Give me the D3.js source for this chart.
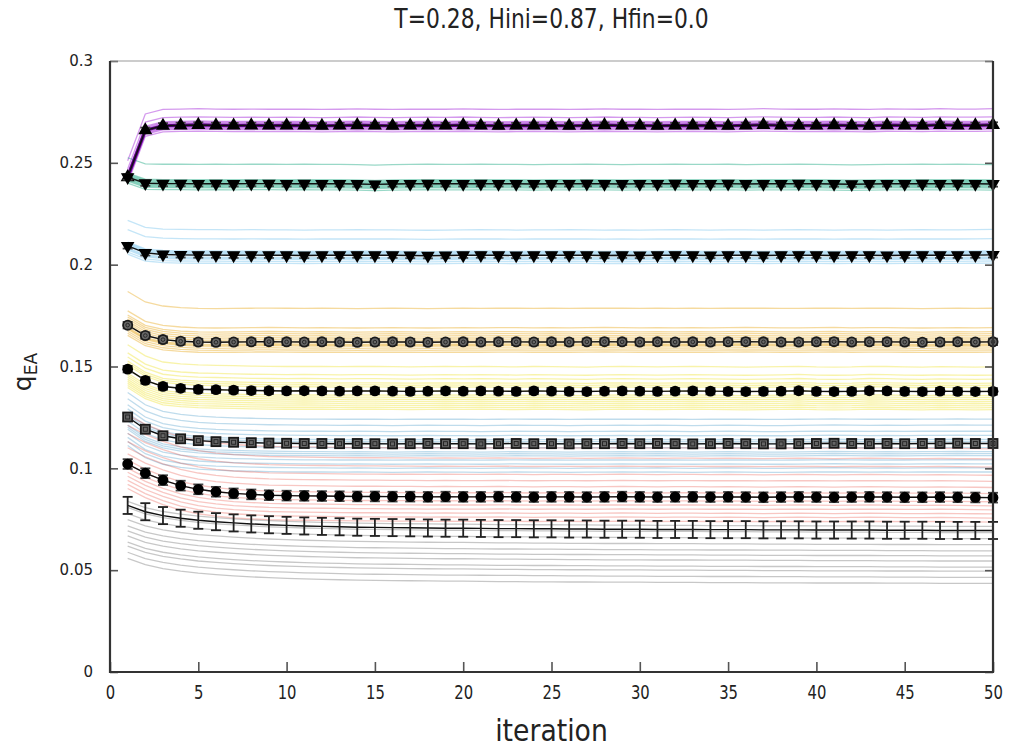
<!DOCTYPE html>
<html><head><meta charset="utf-8">
<script src="https://cdn.jsdelivr.net/npm/d3@7"></script>
<style>
body{margin:0;background:#fff;}
text{fill:#222;}
.norm{font-family:"DejaVu Sans",sans-serif;}
</style></head>
<body><svg id="c" width="1011" height="751"></svg>
<script>
const iterations = [1,2,3,4,5,6,7,8,9,10,11,12,13,14,15,16,17,18,19,20,21,22,23,24,25,26,27,28,29,30,31,32,33,34,35,36,37,38,39,40,41,42,43,44,45,46,47,48,49,50];
const xTicks = [0,5,10,15,20,25,30,35,40,45,50];
const yTicks = [0,0.05,0.1,0.15,0.2,0.25,0.3];

const purpleMean = [0.2430,0.2660,0.2682,0.2684,0.2686,0.2684,0.2683,0.2684,0.2683,0.2684,0.2683,0.2682,0.2683,0.2685,0.2683,0.2682,0.2683,0.2684,0.2683,0.2685,0.2683,0.2682,0.2683,0.2684,0.2683,0.2682,0.2683,0.2685,0.2683,0.2683,0.2682,0.2683,0.2684,0.2683,0.2682,0.2684,0.2686,0.2684,0.2683,0.2683,0.2685,0.2683,0.2682,0.2685,0.2684,0.2683,0.2686,0.2684,0.2684,0.2686];
const greenMean = [0.2430,0.2400,0.2398,0.2398,0.2397,0.2398,0.2397,0.2398,0.2398,0.2397,0.2398,0.2397,0.2397,0.2396,0.2394,0.2396,0.2397,0.2398,0.2397,0.2397,0.2398,0.2397,0.2397,0.2396,0.2397,0.2397,0.2398,0.2397,0.2396,0.2397,0.2397,0.2398,0.2397,0.2397,0.2398,0.2396,0.2397,0.2397,0.2398,0.2397,0.2396,0.2395,0.2396,0.2397,0.2397,0.2398,0.2397,0.2398,0.2397,0.2396];
const blueMean = [0.2092,0.2058,0.2050,0.2048,0.2047,0.2047,0.2046,0.2047,0.2046,0.2046,0.2045,0.2046,0.2046,0.2047,0.2046,0.2046,0.2045,0.2044,0.2045,0.2046,0.2047,0.2046,0.2045,0.2046,0.2046,0.2047,0.2046,0.2045,0.2046,0.2045,0.2046,0.2047,0.2046,0.2045,0.2046,0.2046,0.2045,0.2046,0.2047,0.2046,0.2045,0.2046,0.2046,0.2045,0.2046,0.2047,0.2046,0.2046,0.2047,0.2048];
const orangeMean = [0.1703,0.1652,0.1632,0.1624,0.1620,0.1619,0.1620,0.1621,0.1622,0.1621,0.1620,0.1621,0.1620,0.1619,0.1620,0.1621,0.1620,0.1619,0.1620,0.1621,0.1620,0.1621,0.1621,0.1620,0.1621,0.1620,0.1621,0.1622,0.1621,0.1620,0.1621,0.1620,0.1621,0.1620,0.1621,0.1622,0.1621,0.1620,0.1620,0.1621,0.1622,0.1620,0.1621,0.1621,0.1620,0.1619,0.1620,0.1621,0.1620,0.1621];
const yellowMean = [0.1487,0.1432,0.1402,0.1393,0.1388,0.1386,0.1384,0.1382,0.1381,0.1380,0.1381,0.1380,0.1379,0.1380,0.1380,0.1379,0.1378,0.1379,0.1380,0.1379,0.1380,0.1379,0.1378,0.1380,0.1379,0.1378,0.1377,0.1379,0.1380,0.1379,0.1378,0.1379,0.1380,0.1379,0.1378,0.1377,0.1378,0.1379,0.1381,0.1378,0.1377,0.1378,0.1381,0.1380,0.1378,0.1377,0.1379,0.1378,0.1377,0.1378];
const lightBlueMean = [0.1252,0.1192,0.1160,0.1145,0.1136,0.1131,0.1128,0.1126,0.1124,0.1123,0.1122,0.1122,0.1121,0.1122,0.1121,0.1120,0.1121,0.1122,0.1121,0.1121,0.1120,0.1121,0.1122,0.1121,0.1121,0.1120,0.1121,0.1121,0.1122,0.1121,0.1122,0.1121,0.1120,0.1121,0.1122,0.1121,0.1120,0.1120,0.1121,0.1122,0.1123,0.1122,0.1121,0.1122,0.1121,0.1122,0.1122,0.1123,0.1122,0.1122];
const redMean = [0.1021,0.0976,0.0942,0.0915,0.0897,0.0885,0.0877,0.0872,0.0868,0.0866,0.0865,0.0864,0.0863,0.0862,0.0862,0.0861,0.0861,0.0860,0.0861,0.0860,0.0860,0.0861,0.0860,0.0859,0.0860,0.0860,0.0859,0.0860,0.0861,0.0860,0.0859,0.0860,0.0860,0.0859,0.0860,0.0859,0.0858,0.0859,0.0860,0.0859,0.0858,0.0859,0.0860,0.0859,0.0858,0.0858,0.0859,0.0858,0.0857,0.0856];
const grayMean = [0.0818,0.0787,0.0768,0.0755,0.0745,0.0738,0.0732,0.0727,0.0723,0.0720,0.0717,0.0715,0.0713,0.0711,0.0710,0.0709,0.0708,0.0707,0.0706,0.0706,0.0705,0.0704,0.0704,0.0703,0.0703,0.0702,0.0702,0.0701,0.0701,0.0701,0.0700,0.0700,0.0700,0.0699,0.0699,0.0699,0.0698,0.0698,0.0698,0.0697,0.0697,0.0697,0.0697,0.0696,0.0696,0.0696,0.0695,0.0695,0.0695,0.0695];

const groupErrors = [0.0013,0.0013,0.0013,0.0016,0.0016,0.0019,0.0024,0.0042];

// offsets of the individual (faint) runs from each group mean
const purpleRuns = [0.008,0.004,0.002,0.0015,0.001,0.0005,0.000,-0.0005,-0.001,-0.0015,-0.002,-0.003];
const greenRuns = [0.0095,0.002,0.001,0.0005,0.000,-0.0005,-0.001,-0.0015,-0.002,-0.003,0.0015];
const blueRuns = [0.0125,0.008,0.002,0.001,0.0005,0.000,-0.001,-0.0015,-0.002,-0.003,-0.004,0.0015];
const orangeRuns = [0.0165,0.007,0.005,0.003,0.002,0.001,0.000,-0.001,-0.002,-0.003,-0.004,-0.005,0.004,-0.0015];
const yellowRuns = [0.012,0.008,0.006,0.004,0.002,0.000,-0.002,-0.004,-0.005,-0.006,-0.007,-0.008,-0.009,0.003,-0.003];
const lightBlueRuns = [0.012,0.009,0.006,0.004,0.002,0.000,-0.002,-0.004,-0.006,-0.008,-0.010,-0.012,-0.014,0.001,-0.005];
const redRuns = [0.024,0.019,0.015,0.011,0.008,0.005,0.002,0.000,-0.002,-0.004,-0.006,-0.008,-0.010,-0.012];
const grayRuns = [0.002,-0.001,-0.004,-0.007,-0.010,-0.0125,-0.015,-0.018,-0.020,-0.023,-0.026];

const groupColors = ["#9400d3","#009e73","#56b4e9","#e69f00","#f0e442","#0072b2","#e51e10","#000000"];
const groupMarkers = ["triUp","triDown","triDown","openCircle","circle","openSquare","circle","none"];
const groupMeans = [purpleMean,greenMean,blueMean,orangeMean,yellowMean,lightBlueMean,redMean,grayMean];
const groupRuns = [purpleRuns,greenRuns,blueRuns,orangeRuns,yellowRuns,lightBlueRuns,redRuns,grayRuns];
const runAlpha = [0.4,0.4,0.35,0.38,0.45,0.25,0.25,0.22];

const svg = d3.select("#c");
const L=110,R=993,T=61,B=672;
const x = d3.scaleLinear().domain([0,50]).range([L,R]);
const y = d3.scaleLinear().domain([0,0.3]).range([B,T]);

// title (condensed look)
svg.append("text").attr("class","norm").attr("transform",`translate(${(L+R)/2},28) scale(0.84,1)`)
  .attr("text-anchor","middle").attr("font-size",26).text("T=0.28, Hini=0.87, Hfin=0.0");

const line = d3.line().x((d,i)=>x(iterations[i])).y(d=>y(d));

const plot = svg.append("g");
groupMeans.forEach((m,gi)=>{
  groupRuns[gi].forEach(off=>{
    plot.append("path").datum(m.map(v=>v+off))
      .attr("d",line).attr("fill","none")
      .attr("stroke",groupColors[gi]).attr("stroke-opacity",runAlpha[gi]).attr("stroke-width",1.3);
  });
});

groupMeans.forEach((m,gi)=>{
  const g = plot.append("g");
  if(gi===0){
    g.append("path").datum(m).attr("d",line).attr("fill","none").attr("stroke","#5a0082").attr("stroke-width",3.2);
  }
  g.append("path").datum(m).attr("d",line).attr("fill","none").attr("stroke","#111").attr("stroke-width",1.4);
  const e = groupErrors[gi];
  const eb = g.append("g").attr("stroke", gi===7 ? "#222" : "#444").attr("stroke-width",1.8);
  m.forEach((v,i)=>{
    const cx=x(iterations[i]);
    eb.append("line").attr("x1",cx).attr("x2",cx).attr("y1",y(v-e)).attr("y2",y(v+e));
    eb.append("line").attr("x1",cx-5).attr("x2",cx+5).attr("y1",y(v-e)).attr("y2",y(v-e));
    eb.append("line").attr("x1",cx-5).attr("x2",cx+5).attr("y1",y(v+e)).attr("y2",y(v+e));
  });
  const mk = groupMarkers[gi];
  if(mk==="none") return;
  m.forEach((v,i)=>{
    const cx=x(iterations[i]), cy=y(v);
    if(mk==="triUp"){
      g.append("path").attr("d",d3.symbol(d3.symbolTriangle,85)()).attr("transform",`translate(${cx},${cy})`).attr("fill","#000");
    } else if(mk==="triDown"){
      g.append("path").attr("d",d3.symbol(d3.symbolTriangle,80)()).attr("transform",`translate(${cx},${cy}) rotate(180)`).attr("fill","#000");
    } else if(mk==="circle"){
      g.append("circle").attr("cx",cx).attr("cy",cy).attr("r",5.4).attr("fill","#000");
    } else if(mk==="openCircle"){
      g.append("circle").attr("cx",cx).attr("cy",cy).attr("r",4.6).attr("fill","#666").attr("stroke","#1a1a1a").attr("stroke-width",1.8);
      g.append("circle").attr("cx",cx).attr("cy",cy).attr("r",1.8).attr("fill","none").attr("stroke","#222").attr("stroke-width",0.9);
    } else if(mk==="openSquare"){
      g.append("rect").attr("x",cx-4.5).attr("y",cy-4.5).attr("width",9).attr("height",9).attr("fill","#666").attr("stroke","#1a1a1a").attr("stroke-width",1.8);
      g.append("rect").attr("x",cx-2).attr("y",cy-2).attr("width",4).attr("height",4).attr("fill","none").attr("stroke","#222").attr("stroke-width",0.9);
    }
  });
});

// axes
const ax = svg.append("g");
const xb = ax.append("g").attr("transform",`translate(0,${B})`)
  .call(d3.axisBottom(x).tickValues(xTicks).tickFormat(d3.format("d")).tickSizeInner(-10).tickSizeOuter(0).tickPadding(14));
xb.selectAll("text").attr("class","norm").attr("font-size",19).attr("transform","scale(0.78,1)")
  .attr("x",function(d){return 0;}).style("fill","#222");
// scale applied around tick origin so labels stay centered
xb.selectAll(".tick text").attr("transform","scale(0.78,1)");
const yl = ax.append("g").attr("transform",`translate(${L},0)`)
  .call(d3.axisLeft(y).tickValues(yTicks).tickFormat(d=>d3.format("")(+d.toFixed(2))).tickSizeInner(-8).tickSizeOuter(0).tickPadding(17));
yl.selectAll("text").attr("class","norm").attr("font-size",15).style("fill","#222");
const yr = ax.append("g").attr("transform",`translate(${R},0)`)
  .call(d3.axisRight(y).tickValues(yTicks).tickFormat("").tickSizeInner(-8).tickSizeOuter(0));
ax.selectAll(".domain").remove();
ax.selectAll(".tick line").attr("stroke","#555").attr("stroke-width",1.6);
// frame
svg.append("line").attr("x1",L).attr("x2",R).attr("y1",T).attr("y2",T).attr("stroke","#999").attr("stroke-width",1.2);
svg.append("path").attr("d",`M${L},${T}V${B}H${R}V${T}`).attr("fill","none").attr("stroke","#333").attr("stroke-width",2.2);

// axis titles
svg.append("text").attr("class","norm").attr("transform",`translate(${(L+R)/2},741) scale(0.86,1)`)
  .attr("text-anchor","middle").attr("font-size",31).text("iteration");
const yt = svg.append("text").attr("class","norm").attr("transform","translate(31,372) rotate(-90)")
  .attr("text-anchor","middle").attr("font-size",25);
yt.append("tspan").text("q");
yt.append("tspan").attr("font-size",17).attr("dy",6).text("EA");
</script></body></html>
